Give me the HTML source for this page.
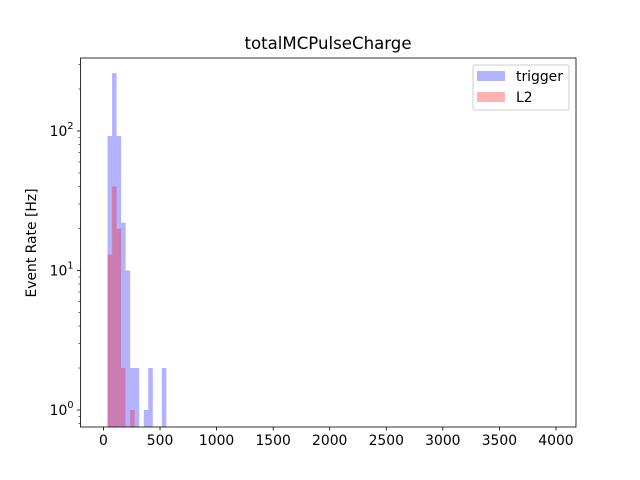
<!DOCTYPE html>
<html><head><meta charset="utf-8"><style>body{margin:0;background:#fff}svg{display:block;font-family:"DejaVu Sans","Liberation Sans",sans-serif}</style></head>
<body>
<svg id="chart" width="640" height="480" xmlns="http://www.w3.org/2000/svg">
<rect width="640" height="480" fill="#fff"/>
<text x="328" y="49" font-size="16.6" text-anchor="middle">totalMCPulseCharge</text>
<text transform="translate(36,243) rotate(-90)" font-size="13.9" text-anchor="middle">Event Rate [Hz]</text>
<g id="bars"></g>
<g id="axes"></g>
<g>
<rect x="473" y="65" width="96" height="45" rx="2" fill="#fff" fill-opacity="0.8" stroke="#ccc"/>
<rect x="477" y="71" width="28" height="10" fill="#0000ff" fill-opacity="0.3"/>
<text x="516" y="81" font-size="13.9">trigger</text>
<rect x="477" y="92" width="28" height="10" fill="#ff0000" fill-opacity="0.3"/>
<text x="516" y="102" font-size="13.9">L2</text>
</g>
</svg>
<script>
const binEdges = [36,76,116,156,196,236,276,316,356,396,436,476,516,556];
const triggerValues = [92,260,92,22,10,2,2,0,1,2,0,0,2];
const l2Values = [13,40,20,2,0,1,0,0,0,0,0,0,0];
const xTicks = [0,500,1000,1500,2000,2500,3000,3500,4000];
const yDecades = [0,1,2];

const L=80.5,R=576,T=58,B=427;
const xMin=-203,xMax=4177;
const x=v=>L+(v-xMin)/(xMax-xMin)*(R-L);
const y0=410, dec=139.5;
const y=v=>y0-Math.log10(v)*dec;
const NS="http://www.w3.org/2000/svg";
function mk(tag,attrs,parent){const e=document.createElementNS(NS,tag);for(const k in attrs)e.setAttribute(k,attrs[k]);parent.appendChild(e);return e;}
const bars=document.getElementById('bars'), axes=document.getElementById('axes');
function drawSeries(vals,color,name){
  vals.forEach((v,i)=>{ if(v<=0) return;
    const r=mk('rect',{x:x(binEdges[i]),y:y(v),width:x(binEdges[i+1])-x(binEdges[i]),height:B-y(v),fill:color,'fill-opacity':0.3},bars);
    
    
  });
}
drawSeries(triggerValues,'#0000ff','trigger');
drawSeries(l2Values,'#ff0000','l2');
const frame=mk('rect',{x:L,y:T,width:R-L,height:B-T,fill:'none',stroke:'#000','stroke-width':0.8},axes);


xTicks.forEach(t=>{
  mk('line',{x1:x(t),x2:x(t),y1:B,y2:B+3.5,stroke:'#000','stroke-width':0.8},axes);
  const tx=mk('text',{x:x(t),y:B+18,'font-size':13.9,'text-anchor':'middle'},axes);
  tx.textContent=t;
  
  
});
yDecades.forEach(d=>{
  const yy=y(Math.pow(10,d));
  mk('line',{x1:L,x2:L-3.5,y1:yy,y2:yy,stroke:'#000','stroke-width':0.8},axes);
  const tx=mk('text',{x:L-7,y:yy+5,'font-size':13.9,'text-anchor':'end'},axes);
  tx.innerHTML='10<tspan dy="-7" font-size="9.7">'+d+'</tspan>';
  
  
});
for(let d=-1;d<=2;d++)for(let m=2;m<=9;m++){
  const yy=y(m*Math.pow(10,d)); if(yy<T||yy>B)continue;
  mk('line',{x1:L,x2:L-2,y1:yy,y2:yy,stroke:'#000','stroke-width':0.6},axes);
}
</script>
</body></html>
